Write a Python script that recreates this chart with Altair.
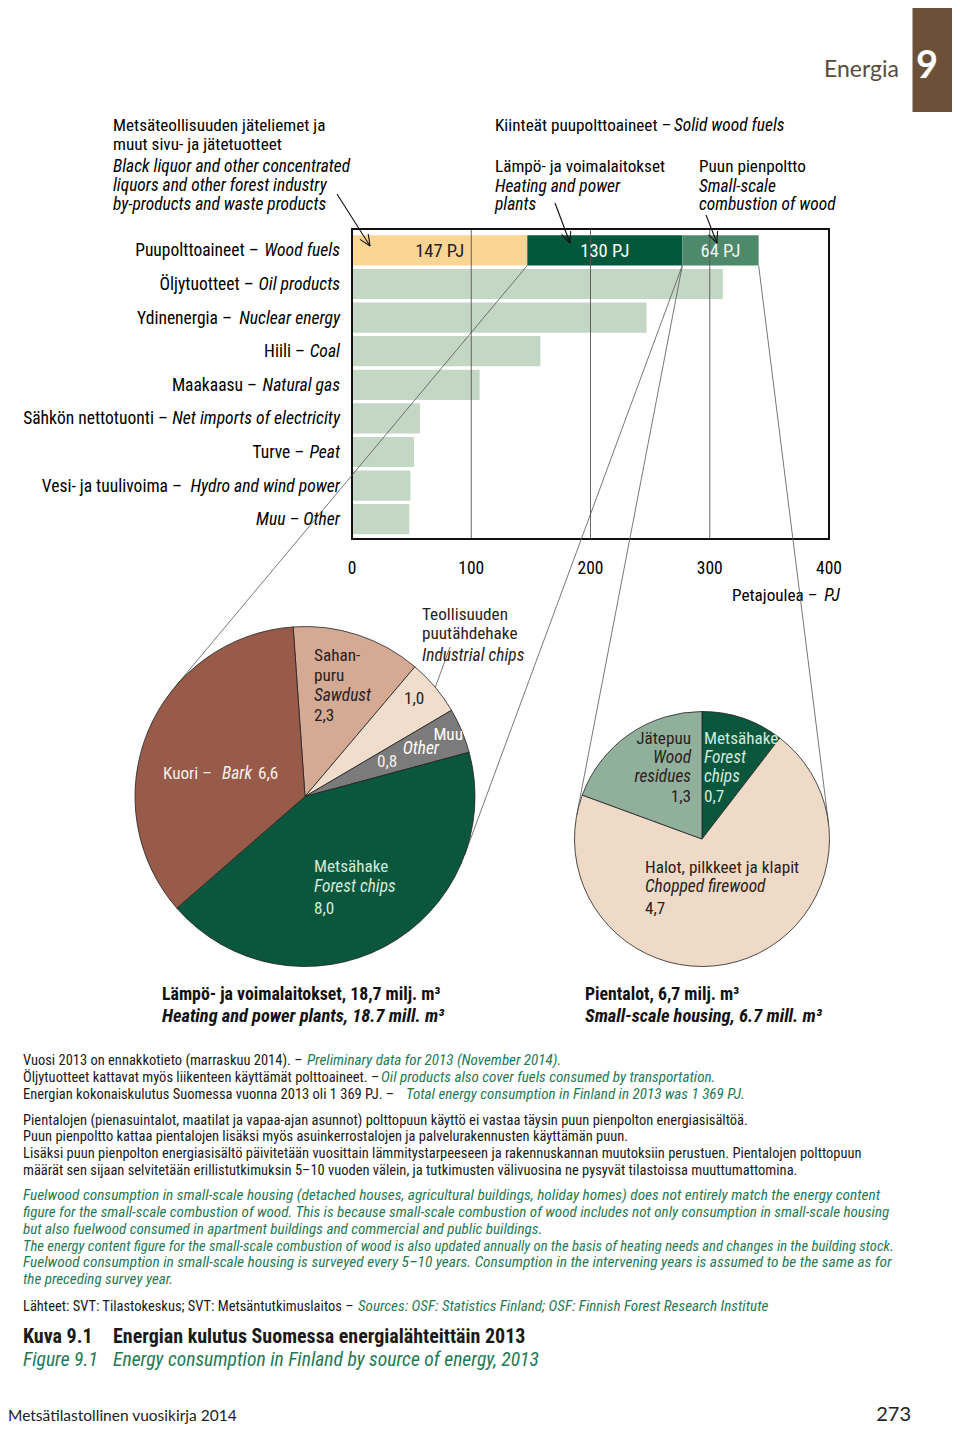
import math
import altair as alt
import pandas as pd

OFF = 8
W, H = 944, 1417
NARROW = "'Roboto Condensed', 'Archivo Narrow', 'Liberation Sans', sans-serif"
GILL = "Lato, 'Open Sans', sans-serif"
GREEN = "#1f7a55"
RS, IS = 17.2, 17.4        # regular / italic label sizes

# ---------------- data ----------------
cat_fi = ["Puupolttoaineet", "Öljytuotteet", "Ydinenergia", "Hiili", "Maakaasu",
          "Sähkön nettotuonti", "Turve", "Vesi- ja tuulivoima", "Muu"]
cat_en = ["Wood fuels", "Oil products", "Nuclear energy", "Coal", "Natural gas",
          "Net imports of electricity", "Peat", "Hydro and wind power", "Other"]
other_values = [311, 247, 158, 107, 57, 52, 49, 48]          # categories 2..9, PJ
wood_values = [147, 130, 64]                                   # wood fuels split, PJ
wood_colors = ["#fbd593", "#03573b", "#4f896b"]
wood_label_colors = ["#222222", "#ffffff", "#eef5f0"]
bar_color = "#c3d7c4"
x_ticks = [0, 100, 200, 300, 400]

left_en = ["Sawdust", "Industrial chips", "Other", "Forest chips", "Bark"]
left_values = [2.3, 1.0, 0.8, 8.0, 6.6]                        # mill. m3
left_colors = ["#d4aa95", "#f0ddcb", "#7b7b7b", "#0b573d", "#985a49"]
right_en = ["Forest chips", "Chopped firewood", "Wood residues"]
right_values = [0.7, 4.7, 1.3]                                 # mill. m3
right_colors = ["#0b573d", "#eedac7", "#91b09c"]

# ---------------- geometry helpers ----------------
X0, X1 = 352, 829          # page px of 0 and 400 PJ
def xpix(v):
    return X0 + v * (X1 - X0) / 400.0

XS = alt.Scale(domain=[0, 400], range=[X0 - OFF, X1 - OFF], nice=False, zero=False)
YS = alt.Scale(domain=cat_fi, range=[233.6 - OFF, 536 - OFF], paddingInner=0.1, paddingOuter=0.05)
BAR_BOTTOM = 265.5
LC = (305, 796.5, 170)     # left pie centre / radius (page px)
RC = (702, 839, 127.5)

def fmt(v):
    return f"{v:.1f}".replace(".", ",")

def text_layer(rows, size, style="normal", weight="normal", color="black",
               align="left", font=NARROW):
    df = pd.DataFrame(rows, columns=["t", "x", "y"])
    df["x"] = df["x"] - OFF
    df["y"] = df["y"] - OFF
    return alt.Chart(df).mark_text(
        align=align, baseline="alphabetic", font=font, fontSize=size,
        fontStyle=style, fontWeight=weight, color=color
    ).encode(x=alt.X("x:Q", scale=None), y=alt.Y("y:Q", scale=None), text="t:N")

def seg_layer(segs, color="#333333", width=1.0):
    df = pd.DataFrame(segs, columns=["x", "y", "x2", "y2"]) - OFF
    return alt.Chart(df).mark_rule(color=color, strokeWidth=width).encode(
        x=alt.X("x:Q", scale=None), y=alt.Y("y:Q", scale=None), x2="x2:Q", y2="y2:Q")

def tangent(P, C, side):
    cx, cy, r = C
    dx, dy = cx - P[0], cy - P[1]
    d = math.hypot(dx, dy)
    ang = math.atan2(dy, dx) + side * math.asin(r / d)
    L = math.sqrt(d * d - r * r)
    return (P[0] + L * math.cos(ang), P[1] + L * math.sin(ang))

def arrow(p0, p1, L=12, a=24):
    ux, uy = p1[0] - p0[0], p1[1] - p0[1]
    n = math.hypot(ux, uy); ux, uy = ux / n, uy / n
    segs = [(p0[0], p0[1], p1[0], p1[1])]
    for s in (-1, 1):
        t = math.radians(a) * s
        wx = ux * math.cos(t) - uy * math.sin(t)
        wy = ux * math.sin(t) + uy * math.cos(t)
        segs.append((p1[0], p1[1], p1[0] - L * wx, p1[1] - L * wy))
    return segs

layers = []

# ---------------- header ----------------
box = pd.DataFrame({"a": [0]})
layers.append(alt.Chart(box).mark_rect(color="#6d5038").encode(
    x=alt.value(912.5 - OFF), x2=alt.value(W), y=alt.value(0), y2=alt.value(112 - OFF)))
layers.append(text_layer([("Energia", 899, 77)], 23, color="#5b4a3c", align="right", font=GILL))
layers.append(text_layer([("9", 927, 78)], 38, weight="bold", color="white", align="center", font=GILL))

# ---------------- bars ----------------
rows = []
start = 0
for v, c in zip(wood_values, wood_colors):
    rows.append({"cat": cat_fi[0], "s": start, "e": start + v, "c": c,
                 "m": start + v / 2, "lab": f"{v} PJ"})
    start += v
wood_df = pd.DataFrame(rows)
wood_df["lc"] = wood_label_colors
oth_df = pd.DataFrame({"cat": cat_fi[1:], "s": 0, "e": other_values, "c": bar_color})
bar_df = pd.concat([wood_df[["cat", "s", "e", "c"]], oth_df], ignore_index=True)

layers.append(alt.Chart(bar_df).mark_bar().encode(
    x=alt.X("s:Q", scale=XS, axis=None), x2="e:Q",
    y=alt.Y("cat:N", scale=YS, axis=None, sort=cat_fi),
    color=alt.Color("c:N", scale=None)))

grid_df = pd.DataFrame({"v": x_ticks[1:-1]})
layers.append(alt.Chart(grid_df).mark_rule(color="#555555", strokeWidth=0.9).encode(
    x=alt.X("v:Q", scale=XS, axis=None), y=alt.value(229 - OFF), y2=alt.value(539 - OFF)))

frame_df = pd.DataFrame({"s": [x_ticks[0]], "e": [x_ticks[-1]]})
layers.append(alt.Chart(frame_df).mark_rect(fillOpacity=0, stroke="#111111", strokeWidth=2).encode(
    x=alt.X("s:Q", scale=XS, axis=None), x2="e:Q", y=alt.value(229 - OFF), y2=alt.value(539 - OFF)))

for col in ["#222222", "#ffffff", "#eef5f0"]:
    sub = wood_df[wood_df["lc"] == col]
    layers.append(alt.Chart(sub).mark_text(font=NARROW, fontSize=18.5, color=col, baseline="middle", dy=1).encode(
        x=alt.X("m:Q", scale=XS, axis=None),
        y=alt.Y("cat:N", scale=YS, axis=None, sort=cat_fi),
        text="lab:N"))

tick_df = pd.DataFrame({"v": x_ticks, "t": [str(t) for t in x_ticks]})
layers.append(alt.Chart(tick_df).mark_text(font=NARROW, fontSize=17.5, baseline="alphabetic").encode(
    x=alt.X("v:Q", scale=XS, axis=None), y=alt.value(574 - OFF), text="t:N"))
layers.append(text_layer([("Petajoulea –", 732, 601)], RS))
layers.append(text_layer([("PJ", 840, 601)], IS, style="italic", align="right"))

# category labels: Finnish part (regular) + English part (italic)
it_start = [262.7, 257.7, 236, 309, 261, 172, 308.3, 186, 281.7]
lab_df = pd.DataFrame({"cat": cat_fi, "fi": [f + " –" for f in cat_fi], "en": cat_en,
                       "xs": [s - 4 - OFF for s in it_start]})
lab_df.loc[lab_df.index[-1], "en"] = cat_fi[-1] + " – " + cat_en[-1]
reg_df = lab_df.iloc[:-1]
layers.append(alt.Chart(lab_df).mark_text(font=NARROW, fontSize=17.6, fontStyle="italic", align="right",
                                          baseline="middle", dy=1).encode(
    x=alt.value(340 - OFF), y=alt.Y("cat:N", scale=YS, axis=None, sort=cat_fi), text="en:N"))
layers.append(alt.Chart(reg_df).mark_text(font=NARROW, fontSize=17.5, align="right",
                                          baseline="middle", dy=1).encode(
    x=alt.X("xs:Q", scale=None), y=alt.Y("cat:N", scale=YS, axis=None, sort=cat_fi), text="fi:N"))

# ---------------- top labels ----------------
layers.append(text_layer([("Metsäteollisuuden jäteliemet ja", 113, 131),
                          ("muut sivu- ja jätetuotteet", 113, 150),
                          ("Kiinteät puupolttoaineet –", 495, 131),
                          ("Lämpö- ja voimalaitokset", 495, 172),
                          ("Puun pienpoltto", 699, 172)], RS))
layers.append(text_layer([("Black liquor and other concentrated", 113, 172),
                          ("liquors and other forest industry", 113, 191),
                          ("by-products and waste products", 113, 210),
                          ("Solid wood fuels", 674, 131),
                          ("Heating and power", 495, 192),
                          ("plants", 495, 210),
                          ("Small-scale", 699, 192),
                          ("combustion of wood", 699, 210)], IS, style="italic"))

segs = []
segs += arrow((337, 194), (370, 246))
segs += arrow((555, 203), (570, 243))
segs += arrow((706, 215), (717, 243))
layers.append(seg_layer(segs, color="#111111", width=1.1))

# ---------------- connectors ----------------
cum = [sum(wood_values[:i + 1]) for i in range(3)]
P1 = (xpix(cum[0]), BAR_BOTTOM)
P2 = (xpix(cum[1]), BAR_BOTTOM)
P3 = (xpix(cum[2]), BAR_BOTTOM)
conn = []
for P, C, side in [(P1, LC, 1), (P2, LC, -1), (P2, RC, 1), (P3, RC, -1)]:
    T = tangent(P, C, side)
    conn.append((P[0], P[1], T[0], T[1]))
conn.append((450, 647, 435, 688))   # callout to industrial chips
layers.append(seg_layer(conn, color="#555555", width=0.8))

# ---------------- pies ----------------
def pie(labels, values, colors, C, start_deg):
    df = pd.DataFrame({"k": labels, "v": values, "c": colors, "o": range(len(values))})
    st = math.radians(start_deg)
    return alt.Chart(df).mark_arc(radius=C[2], stroke="#222222", strokeWidth=0.8).encode(
        theta=alt.Theta("v:Q", stack=True, scale=alt.Scale(range=[st, st + 2 * math.pi])),
        order=alt.Order("o:Q"),
        color=alt.Color("c:N", scale=None),
        x=alt.value(C[0] - OFF), y=alt.value(C[1] - OFF))

layers.append(pie(left_en, left_values, left_colors, LC, -4))
layers.append(pie(right_en, right_values, right_colors, RC, 0))

DARK = "#2a211c"
LIGHT = "#f6eee8"
MINT = "#d2eadb"
# left pie labels
layers.append(text_layer([("Sahan-", 314, 661), ("puru", 314, 681), (fmt(left_values[0]), 314, 721),
                          (fmt(left_values[1]), 404, 704),
                          ("Teollisuuden", 422, 620), ("puutähdehake", 422, 639)], RS, color=DARK))
layers.append(text_layer([("Sawdust", 314, 701), ("Industrial chips", 422, 661)], IS, style="italic", color=DARK))
layers.append(text_layer([("Muu", 463, 740)], RS, color="white", align="right"))
layers.append(text_layer([("Other", 439, 754)], IS, style="italic", color="white", align="right"))
layers.append(text_layer([(fmt(left_values[2]), 377, 767), ("Kuori –", 163, 779),
                          (fmt(left_values[4]), 258, 779)], RS, color=LIGHT))
layers.append(text_layer([("Bark", 222, 779)], IS, style="italic", color=LIGHT))
layers.append(text_layer([("Metsähake", 314, 872), (fmt(left_values[3]), 314, 914)], RS, color=MINT))
layers.append(text_layer([("Forest chips", 314, 892)], IS, style="italic", color=MINT))

# right pie labels
layers.append(text_layer([("Jätepuu", 691, 744), (fmt(right_values[2]), 691, 802)], RS, color=DARK, align="right"))
layers.append(text_layer([("Wood", 691, 763), ("residues", 691, 782)], IS, style="italic", color=DARK, align="right"))
layers.append(text_layer([("Metsähake", 704, 744), (fmt(right_values[0]), 704, 802)], RS, color=MINT))
layers.append(text_layer([("Forest", 704, 763), ("chips", 704, 782)], IS, style="italic", color=MINT))
layers.append(text_layer([("Halot, pilkkeet ja klapit", 645, 873), (fmt(right_values[1]), 645, 914)], RS, color=DARK))
layers.append(text_layer([("Chopped firewood", 645, 892)], IS, style="italic", color=DARK))

# pie titles
lt = fmt(sum(left_values)); rt = fmt(sum(right_values))
layers.append(text_layer([(f"Lämpö- ja voimalaitokset, {lt} milj. m³", 162, 1000),
                          (f"Pientalot, {rt} milj. m³", 585, 1000)], 17.8, weight="bold", color="#111111"))
layers.append(text_layer([(f"Heating and power plants, {lt.replace(',', '.')} mill. m³", 162, 1022),
                          (f"Small-scale housing, {rt.replace(',', '.')} mill. m³", 585, 1022)],
                         18.4, weight="bold", style="italic", color="#111111"))

# ---------------- notes ----------------
layers.append(text_layer([
    ("Vuosi 2013 on ennakkotieto (marraskuu 2014). –", 23, 1065),
    ("Öljytuotteet kattavat myös liikenteen käyttämät polttoaineet. –", 23, 1082),
    ("Energian kokonaiskulutus Suomessa vuonna 2013 oli  1 369 PJ. –", 23, 1099),
    ("Pientalojen (pienasuintalot, maatilat ja vapaa-ajan asunnot) polttopuun käyttö ei vastaa täysin puun pienpolton energiasisältöä.", 23, 1125),
    ("Puun pienpoltto kattaa pientalojen lisäksi myös asuinkerrostalojen ja palvelurakennusten käyttämän puun.", 23, 1141),
    ("Lisäksi puun pienpolton energiasisältö päivitetään vuosittain lämmitystarpeeseen ja rakennuskannan muutoksiin perustuen. Pientalojen polttopuun", 23, 1158),
    ("määrät sen sijaan selvitetään erillistutkimuksin 5–10 vuoden välein, ja tutkimusten välivuosina ne pysyvät tilastoissa muuttumattomina.", 23, 1175),
    ("Lähteet: SVT: Tilastokeskus; SVT: Metsäntutkimuslaitos –", 23, 1311),
], 14.5, color="#1a1a1a"))
layers.append(text_layer([
    ("Preliminary data for 2013 (November 2014).", 307, 1065),
    ("Oil products also cover fuels consumed by transportation.", 381, 1082),
    ("Total energy consumption in Finland in 2013 was 1 369 PJ.", 406, 1099),
    ("figure for the small-scale combustion of wood. This is because small-scale combustion of wood includes not only consumption in small-scale housing", 23, 1217),
    ("but also fuelwood consumed in apartment buildings and commercial and public buildings.", 23, 1234),
    ("the preceding survey year.", 23, 1284),
    ("Sources: OSF: Statistics Finland; OSF: Finnish Forest Research Institute", 358, 1311),
], 15.1, style="italic", color=GREEN))
layers.append(text_layer([
    ("Fuelwood consumption in small-scale housing (detached houses, agricultural buildings, holiday homes) does not entirely match the energy content", 23, 1200),
], 15.3, style="italic", color=GREEN))
layers.append(text_layer([
    ("The energy content figure for the small-scale combustion of wood is also updated annually on the basis of heating needs and changes in the building stock.", 23, 1251),
], 14.65, style="italic", color=GREEN))
layers.append(text_layer([
    ("Fuelwood consumption in small-scale housing is surveyed every 5–10 years. Consumption in the intervening years is assumed to be the same as for", 23, 1267),
], 15.35, style="italic", color=GREEN))

# ---------------- caption & footer ----------------
layers.append(text_layer([("Kuva 9.1", 23, 1343),
                          ("Energian kulutus Suomessa energialähteittäin 2013", 113, 1343)],
                         20, weight="bold", color="#1a1a1a"))
layers.append(text_layer([("Figure 9.1", 23, 1366),
                          ("Energy consumption in Finland by source of energy, 2013", 113, 1366)],
                         19.6, style="italic", color=GREEN))
layers.append(text_layer([("Metsätilastollinen vuosikirja 2014", 8, 1421)], 15.5, color="#222222", font=GILL))
layers.append(text_layer([("273", 911, 1421)], 20, color="#222222", align="right", font=GILL))

chart = alt.layer(*layers).properties(
    width=W, height=H, padding=0,
    autosize=alt.AutoSizeParams(type="none")
).resolve_scale(x="independent", y="independent", theta="independent").configure_view(stroke=None)

chart.save("out.html", embed_options={"renderer": "svg", "actions": False})
